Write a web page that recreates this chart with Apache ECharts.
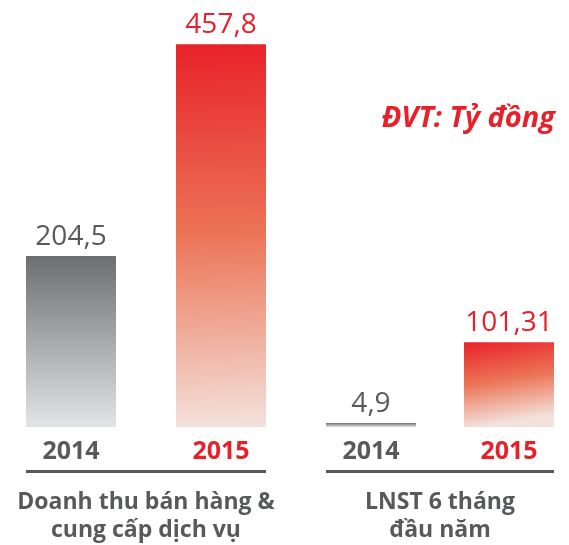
<!DOCTYPE html>
<html>
<head>
<meta charset="utf-8">
<script src="https://cdn.jsdelivr.net/npm/echarts@6/dist/echarts.min.js"></script>
<style>
  html, body { margin: 0; padding: 0; background: #fff; }
  #chart { width: 569px; height: 545px; }
</style>
</head>
<body>
<div id="chart"></div>
<script>
const years = ["2014", "2015"];
const groupNames = ["Doanh thu bán hàng &\ncung cấp dịch vụ", "LNST 6 tháng\nđầu năm"];
const revenue = [204.5, 457.8];
const profit = [4.9, 101.31];
const unitText = "ĐVT: Tỷ đồng";

const GRAY = "#58595b";
const RED = "#e8202a";
const FONT = "Open Sans";

const grayGrad = new echarts.graphic.LinearGradient(0, 0, 0, 1, [
  { offset: 0, color: "#6d6e71" },
  { offset: 1, color: "#e3e4e6" },
]);
const redGrad = new echarts.graphic.LinearGradient(0, 0, 0.15, 1, [
  { offset: 0, color: "#e8222a" },
  { offset: 0.5, color: "#ec7456" },
  { offset: 1, color: "#f3e1db" },
]);

const fmt = (v) => String(v).replace(".", ",");

function barData(values) {
  return values.map((v, i) => ({
    value: v,
    itemStyle: { color: i === 0 ? grayGrad : redGrad },
    label: { color: i === 0 ? GRAY : RED },
  }));
}

function xAxisFor(idx) {
  return {
    type: "category",
    gridIndex: idx,
    data: years,
    axisLine: { show: false },
    axisTick: { show: false },
    axisLabel: {
      margin: 12,
      fontFamily: FONT,
      fontSize: 24,
      fontWeight: "bold",
      formatter: (v) => (v === "2014" ? "{a|" + v + "}" : "{b|" + v + "}"),
      rich: {
        a: { color: GRAY, fontFamily: FONT, fontSize: 25, fontWeight: "bold" },
        b: { color: RED, fontFamily: FONT, fontSize: 25, fontWeight: "bold" },
      },
    },
    name: groupNames[idx],
    nameLocation: "middle",
    nameGap: 61,
    nameTextStyle: {
      color: GRAY,
      fontFamily: FONT,
      fontSize: 23,
      fontWeight: "bold",
      lineHeight: 28,
    },
  };
}

function yAxisFor(idx) {
  return {
    type: "value",
    gridIndex: idx,
    min: 0,
    max: 500,
    show: false,
  };
}

function seriesFor(idx, values) {
  return {
    type: "bar",
    xAxisIndex: idx,
    yAxisIndex: idx,
    barWidth: 90,
    data: barData(values),
    label: {
      show: true,
      position: "top",
      distance: 5,
      fontFamily: FONT,
      fontSize: 28,
      formatter: (p) => fmt(p.value),
    },
  };
}

const chart = echarts.init(document.getElementById("chart"));
chart.setOption({
  animation: false,
  grid: [
    { left: -4, width: 300, top: 9, bottom: 118, outerBoundsMode: "none" },
    { left: 302, width: 276, top: 9, bottom: 118, outerBoundsMode: "none" },
  ],
  xAxis: [xAxisFor(0), xAxisFor(1)],
  yAxis: [yAxisFor(0), yAxisFor(1)],
  series: [seriesFor(0, revenue), seriesFor(1, profit)],
  graphic: [
    { type: "rect", shape: { x: 26, y: 470, width: 240, height: 3 }, style: { fill: GRAY } },
    { type: "rect", shape: { x: 326, y: 470, width: 228, height: 3 }, style: { fill: GRAY } },
    {
      type: "text",
      right: 14,
      top: 104,
      style: {
        text: unitText,
        fill: RED,
        font: "italic bold 29px 'Open Sans'",
      },
    },
  ],
});
</script>
</body>
</html>
